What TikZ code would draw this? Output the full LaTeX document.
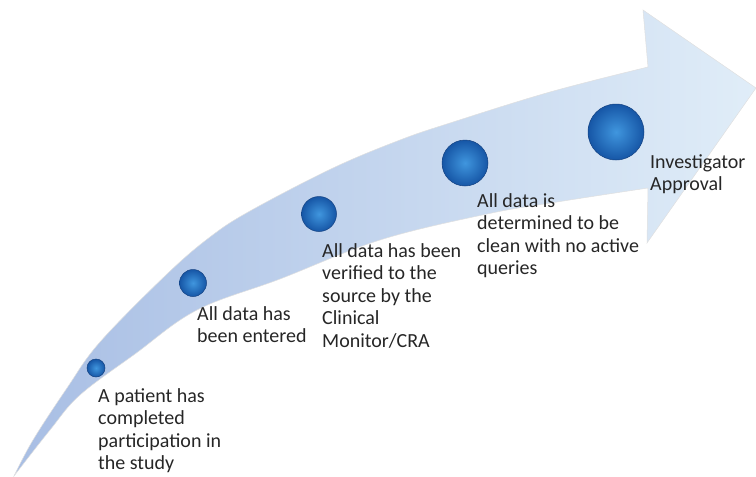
\documentclass[tikz,border=0pt]{standalone}
\usepackage{fontspec}
\setmainfont{Carlito}

\definecolor{tailblue}{RGB}{168,190,228}
\definecolor{headblue}{RGB}{224,237,248}
\definecolor{dotlight}{RGB}{64,150,222}
\definecolor{dotdark}{RGB}{22,86,166}
\definecolor{dotrim}{RGB}{20,66,130}
\definecolor{txtgray}{RGB}{38,38,38}

\tikzset{
  milestone/.style={circle, inner sep=0pt, inner color=dotlight, outer color=dotdark,
    draw=dotrim, line width=0.5pt},
  steptext/.style={anchor=base west, align=left, inner sep=0pt, text=txtgray,
    font=\fontsize{20}{22.5}\selectfont},
}

\begin{document}
\begin{tikzpicture}[x=1pt, y=-1pt]
    \useasboundingbox (0,0) rectangle (756,477);
    % Fleche
    \shade[left color=tailblue, right color=headblue, draw=black!12, line width=0.5pt]
      plot[smooth, tension=0.6] coordinates {(14,476) (33,440) (67,388) (100,342)
        (167,274) (210,237) (250,211) (333,168) (400,140) (450,123) (550,92) (648,67)}
      -- (643,10) -- (756,88) -- (647,243) -- (648,188)
      -- plot[smooth, tension=0.6] coordinates {(648,188) (557,202) (487,214) (380,240)
        (280,279) (197,310) (135,354) (80,395) (50,430) (14,476)}
      -- cycle;
    % Etapes
    \node[milestone, minimum size=18pt] (m1) at (96,368) {};
    \node[milestone, minimum size=27pt] (m2) at (193,283) {};
    \node[milestone, minimum size=35pt] (m3) at (319,214) {};
    \node[milestone, minimum size=46pt] (m4) at (465,163) {};
    \node[milestone, minimum size=56pt] (m5) at (616,132) {};
    % Textes (base = derniere ligne)
    \node[steptext] (s1) at (98,469.5) {A patient has\\completed\\participation in\\the study};
    \node[steptext] (s2) at (197,342.5) {All data has\\been entered};
    \node[steptext] (s3) at (322,347) {All data has been\\verified to the\\source by the\\Clinical\\Monitor/CRA};
    \node[steptext] (s4) at (477,274.5) {All data is\\determined to be\\clean with no active\\queries};
    \node[steptext] (s5) at (650,190.5) {Investigator\\Approval};
\end{tikzpicture}
\end{document}
